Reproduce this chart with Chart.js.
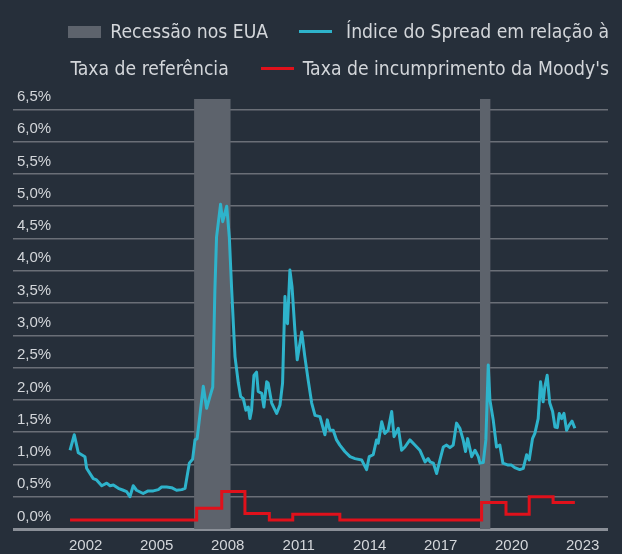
<!DOCTYPE html>
<html lang="pt">
<head>
<meta charset="utf-8">
<title>Spread vs incumprimento</title>
<script src="https://cdn.jsdelivr.net/npm/chart.js@4.4.0/dist/chart.umd.min.js"></script>
<style>
  html, body { margin: 0; padding: 0; background: #262f3a; }
  #wrap { position: relative; width: 622px; height: 554px; overflow: hidden; }
  #grafico { position: absolute; left: 0; top: 0; }
  #legenda {
    position: absolute; top: 13.5px; right: 13px;
    color: #d3d6da; font-family: "DejaVu Sans Condensed", "Liberation Sans Narrow", sans-serif;
    font-size: 19.2px; white-space: nowrap;
  }
  .linha { display: flex; justify-content: flex-end; align-items: center; height: 36.5px; }
  .caixa { width: 33px; height: 12px; background: #5d636c; margin-right: 9px; }
  .traco { width: 33px; height: 3px; }
</style>
</head>
<body>
<div id="wrap">
  <canvas id="grafico" width="622" height="554"></canvas>
  <div id="legenda">
    <div class="linha">
      <span class="caixa"></span><span>Recessão nos EUA</span>
      <span class="traco" style="background:#2eb3cb;margin-left:31px;margin-right:14px"></span><span>Índice do Spread em relação à</span>
    </div>
    <div class="linha">
      <span>Taxa de referência</span>
      <span class="traco" style="background:#e0111b;margin-left:32px;margin-right:9px"></span><span>Taxa de incumprimento da Moody's</span>
    </div>
  </div>
</div>
<script>
// dados (anos em fração decimal)
const spreadDates = [
  2001.34, 2001.52, 2001.69, 2001.83, 2001.97, 2002.04, 2002.32, 2002.46, 2002.68, 2002.89,
  2003.03, 2003.17, 2003.38, 2003.59, 2003.73, 2003.87, 2004.01, 2004.15, 2004.43, 2004.64,
  2004.86, 2005.07, 2005.21, 2005.42, 2005.63, 2005.84, 2006.06, 2006.20, 2006.38, 2006.52,
  2006.62, 2006.71, 2006.97, 2007.11, 2007.25, 2007.37, 2007.46, 2007.53, 2007.70, 2007.79,
  2007.96, 2008.07, 2008.17, 2008.24, 2008.31, 2008.45, 2008.55, 2008.66, 2008.77, 2008.87,
  2008.94, 2009.01, 2009.11, 2009.22, 2009.29, 2009.44, 2009.53, 2009.65, 2009.71, 2009.86,
  2010.07, 2010.21, 2010.32, 2010.42, 2010.49, 2010.53, 2010.63, 2010.72, 2010.84, 2010.94,
  2011.13, 2011.26, 2011.40, 2011.55, 2011.69, 2011.90, 2012.11, 2012.21, 2012.32, 2012.46,
  2012.60, 2012.74, 2012.95, 2013.17, 2013.38, 2013.66, 2013.87, 2013.98, 2014.15, 2014.29,
  2014.36, 2014.51, 2014.64, 2014.78, 2014.93, 2015.03, 2015.21, 2015.35, 2015.49, 2015.70,
  2015.91, 2016.12, 2016.34, 2016.47, 2016.55, 2016.69, 2016.83, 2016.97, 2017.11, 2017.25,
  2017.39, 2017.53, 2017.67, 2017.81, 2017.95, 2018.05, 2018.14, 2018.31, 2018.45, 2018.59,
  2018.66, 2018.80, 2018.91, 2019.01, 2019.08, 2019.22, 2019.36, 2019.50, 2019.63, 2019.85,
  2019.99, 2020.13, 2020.34, 2020.49, 2020.63, 2020.74, 2020.88, 2020.98, 2021.12, 2021.22,
  2021.33, 2021.40, 2021.50, 2021.61, 2021.73, 2021.83, 2021.93, 2022.01, 2022.11, 2022.21,
  2022.32, 2022.43, 2022.55, 2022.67
];
const spreadValues = [
  1.22, 1.46, 1.18, 1.15, 1.12, 0.94, 0.78, 0.76, 0.67, 0.71,
  0.67, 0.68, 0.63, 0.60, 0.58, 0.50, 0.67, 0.60, 0.55, 0.59,
  0.59, 0.61, 0.65, 0.65, 0.64, 0.60, 0.61, 0.63, 1.02, 1.08,
  1.38, 1.40, 2.21, 1.87, 2.05, 2.20, 3.70, 4.52, 5.03, 4.76,
  5.00, 4.52, 3.70, 3.18, 2.67, 2.26, 2.05, 2.02, 1.84, 1.89,
  1.71, 1.84, 2.38, 2.43, 2.13, 2.10, 1.89, 2.28, 2.26, 1.95,
  1.79, 1.92, 2.26, 3.60, 3.21, 3.18, 4.01, 3.75, 3.08, 2.62,
  3.05, 2.67, 2.31, 1.95, 1.76, 1.74, 1.46, 1.69, 1.53, 1.53,
  1.38, 1.30, 1.20, 1.12, 1.09, 1.07, 0.92, 1.12, 1.15, 1.38,
  1.33, 1.66, 1.48, 1.53, 1.82, 1.43, 1.56, 1.22, 1.27, 1.38,
  1.30, 1.22, 1.04, 1.09, 1.04, 1.02, 0.86, 1.07, 1.27, 1.30,
  1.26, 1.30, 1.64, 1.56, 1.38, 1.20, 1.40, 1.12, 1.22, 1.12,
  1.02, 1.03, 1.38, 2.54, 2.00, 1.69, 1.27, 1.30, 1.02, 0.99,
  0.99, 0.95, 0.92, 0.94, 1.15, 1.07, 1.40, 1.48, 1.71, 2.28,
  1.97, 2.20, 2.38, 1.95, 1.82, 1.58, 1.57, 1.79, 1.71, 1.79,
  1.53, 1.61, 1.67, 1.56
];
// taxa de incumprimento (degraus: valor vale até à data seguinte)
const defaultDates = [2001.34, 2006.69, 2007.75, 2008.73, 2009.76, 2010.75, 2012.74, 2018.73, 2019.76, 2020.74, 2021.75, 2022.67];
const defaultValues = [0.14, 0.32, 0.58, 0.24, 0.14, 0.23, 0.14, 0.41, 0.23, 0.50, 0.41, 0.41];
// recessões nos EUA
const recessionStarts = [2006.58, 2018.66];
const recessionEnds = [2008.13, 2019.11];
const yearTicks = [2002, 2005, 2008, 2011, 2014, 2017, 2020, 2023];
const pctTicks = [0, 0.5, 1, 1.5, 2, 2.5, 3, 3.5, 4, 4.5, 5, 5.5, 6, 6.5];

const Y_TOP = 6.66;
const fonteEixo = { family: "'Liberation Sans', Arial, sans-serif", size: 15 };

const recessionSets = recessionStarts.map((ini, i) => ({
  label: 'Recessão nos EUA',
  data: [{ x: ini, y: Y_TOP }, { x: recessionEnds[i], y: Y_TOP }],
  borderWidth: 0,
  pointRadius: 0,
  backgroundColor: '#5d636c',
  fill: 'origin'
}));

new Chart(document.getElementById('grafico'), {
  type: 'line',
  data: {
    datasets: [
      {
        label: 'Índice do Spread em relação à Taxa de referência',
        data: spreadDates.map((d, i) => ({ x: d, y: spreadValues[i] })),
        borderColor: '#2eb3cb',
        borderWidth: 3,
        pointRadius: 0,
        tension: 0,
        borderJoinStyle: 'round'
      },
      {
        label: "Taxa de incumprimento da Moody's",
        data: defaultDates.map((d, i) => ({ x: d, y: defaultValues[i] })),
        borderColor: '#e0111b',
        borderWidth: 3,
        pointRadius: 0,
        stepped: 'before'
      },
      ...recessionSets
    ]
  },
  options: {
    responsive: false,
    animation: false,
    devicePixelRatio: 1,
    layout: { padding: { top: 99, left: 13, right: 14, bottom: 0 } },
    plugins: { legend: { display: false }, tooltip: { enabled: false } },
    scales: {
      x: {
        type: 'linear',
        min: 1998.93,
        max: 2024.07,
        afterBuildTicks: axis => { axis.ticks = yearTicks.map(v => ({ value: v })); },
        afterFit: axis => { axis.height = 25; },
        grid: { display: false, drawTicks: false },
        border: { display: false },
        ticks: {
          color: '#d3d6da',
          font: fonteEixo,
          padding: 8,
          maxRotation: 0,
          autoSkip: false,
          callback: v => String(v)
        }
      },
      y: {
        min: 0,
        max: Y_TOP,
        afterBuildTicks: axis => { axis.ticks = pctTicks.map(v => ({ value: v })); },
        afterFit: axis => { axis.width = 0; },
        border: { display: false },
        grid: {
          drawTicks: false,
          color: ctx => ctx.tick && ctx.tick.value === 0 ? '#8a8f97' : '#6a6f77',
          lineWidth: ctx => ctx.tick && ctx.tick.value === 0 ? 3 : 1.5
        },
        ticks: {
          mirror: true,
          padding: 4,
          labelOffset: -12.5,
          color: '#d3d6da',
          font: fonteEixo,
          callback: v => v.toFixed(1).replace('.', ',') + '%'
        }
      }
    }
  }
});
</script>
</body>
</html>
